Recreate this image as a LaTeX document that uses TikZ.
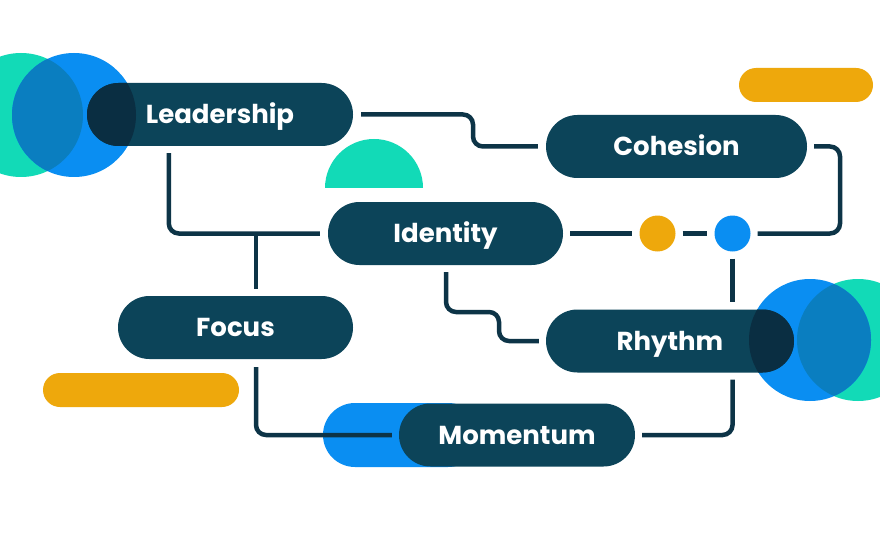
\documentclass[tikz,border=0pt]{standalone}
\usepackage{fontspec}
\setmainfont{Poppins}
\usetikzlibrary{calc}
\definecolor{pillc}{HTML}{0C4459}
\definecolor{linec}{HTML}{0D3447}
\definecolor{tealc}{HTML}{12DAB7}
\definecolor{bluec}{HTML}{0A8EF2}
\definecolor{orangec}{HTML}{EEA80C}
\definecolor{lensc}{HTML}{0A7EC0}
\definecolor{deepc}{HTML}{0A2E42}
\tikzset{
  pill/.style={rectangle, rounded corners=31.5pt, fill=pillc, text=white,
    minimum height=63pt, inner sep=0pt, text height=18.5pt, text depth=0pt,
    font=\fontsize{26}{30}\selectfont\bfseries},
  dotc/.style={circle, minimum size=36pt, inner sep=0pt},
  conn/.style={draw=linec, line width=4.5pt, rounded corners=10pt},
}
\begin{document}
\begin{tikzpicture}[x=1pt,y=-1pt]
\useasboundingbox (0,0) rectangle (880,540);
\fill[white] (0,0) rectangle (880,540);
% left circles
\fill[tealc] (21,115) circle[radius=62pt];
\fill[bluec] (74,115) circle[radius=62pt];
\begin{scope}
  \clip (21,115) circle[radius=62pt];
  \fill[lensc] (74,115) circle[radius=62pt];
\end{scope}
% right circles
\fill[tealc] (858,340) circle[radius=61pt];
\fill[bluec] (810,340) circle[radius=61pt];
\begin{scope}
  \clip (858,340) circle[radius=61pt];
  \fill[lensc] (810,340) circle[radius=61pt];
\end{scope}
% decorations
\fill[orangec, rounded corners=17pt] (739,68) rectangle (873,102);
\fill[orangec, rounded corners=17pt] (43,373) rectangle (239,407);
\fill[tealc] (325,188) arc[start angle=180, end angle=0, radius=49pt] -- cycle;
\fill[bluec, rounded corners=32pt] (323,403) rectangle (480,467);
% nodes
\node[pill, minimum width=266pt] (lead) at (220,114.5) {Leadership};
\node[pill, minimum width=261pt] (coh) at (676.5,146.5) {Cohesion};
\node[pill, minimum width=235pt] (ident) at (445.5,233.5) {Identity};
\node[pill, minimum width=235pt] (focus) at (235.5,327.5) {Focus};
\node[pill, minimum width=248pt] (rhy) at (670,341) {Rhythm};
\node[pill, minimum width=236pt] (mom) at (517,435) {Momentum};
\node[dotc, fill=orangec] (odot) at (657.5,233.5) {};
\node[dotc, fill=bluec] (bdot) at (732.5,233.5) {};
% overlaps of pills with blue circles
\begin{scope}
  \clip[rounded corners=31.5pt] (87,83) rectangle (353,146);
  \fill[deepc] (74,115) circle[radius=62pt];
\end{scope}
\begin{scope}
  \clip[rounded corners=31.5pt] (546,309.5) rectangle (794,372.5);
  \fill[deepc] (810,340) circle[radius=61pt];
\end{scope}
% connectors
\coordinate (j) at (256,233.5);
\draw[conn] ([xshift=8pt]lead.east) -- (473,114.5) -- (473,146.5) -- ([xshift=-8pt]coh.west);
\draw[conn] ([xshift=7pt]coh.east) -- (840,146.5) -- (840,233.5) -- ([xshift=7pt]bdot.east);
\draw[conn] ([xshift=7pt]ident.east) -- ([xshift=-7pt]odot.west);
\draw[conn] ([xshift=7pt]odot.east) -- ([xshift=-7pt]bdot.west);
\draw[conn] ([yshift=-7pt]bdot.south) -- ($(bdot.south |- rhy.north)+(0pt,7pt)$);
\draw[conn] ($(bdot.south |- rhy.south)+(0pt,-7pt)$) |- ([xshift=7pt]mom.east);
\draw[conn] ($(lead.south west)+(82pt,-7pt)$) |- ([xshift=-8pt]ident.west);
\draw[conn] (j) -- ($(j |- focus.north)+(0pt,7pt)$);
\draw[conn] ($(j |- focus.south)+(0pt,-8pt)$) |- ([xshift=-7pt]mom.west);
\draw[conn] ($(ident.south)+(0.5pt,-7pt)$) -- (446,312) -- (499,312) -- (499,341) -- ([xshift=-7pt]rhy.west);
\end{tikzpicture}
\end{document}
